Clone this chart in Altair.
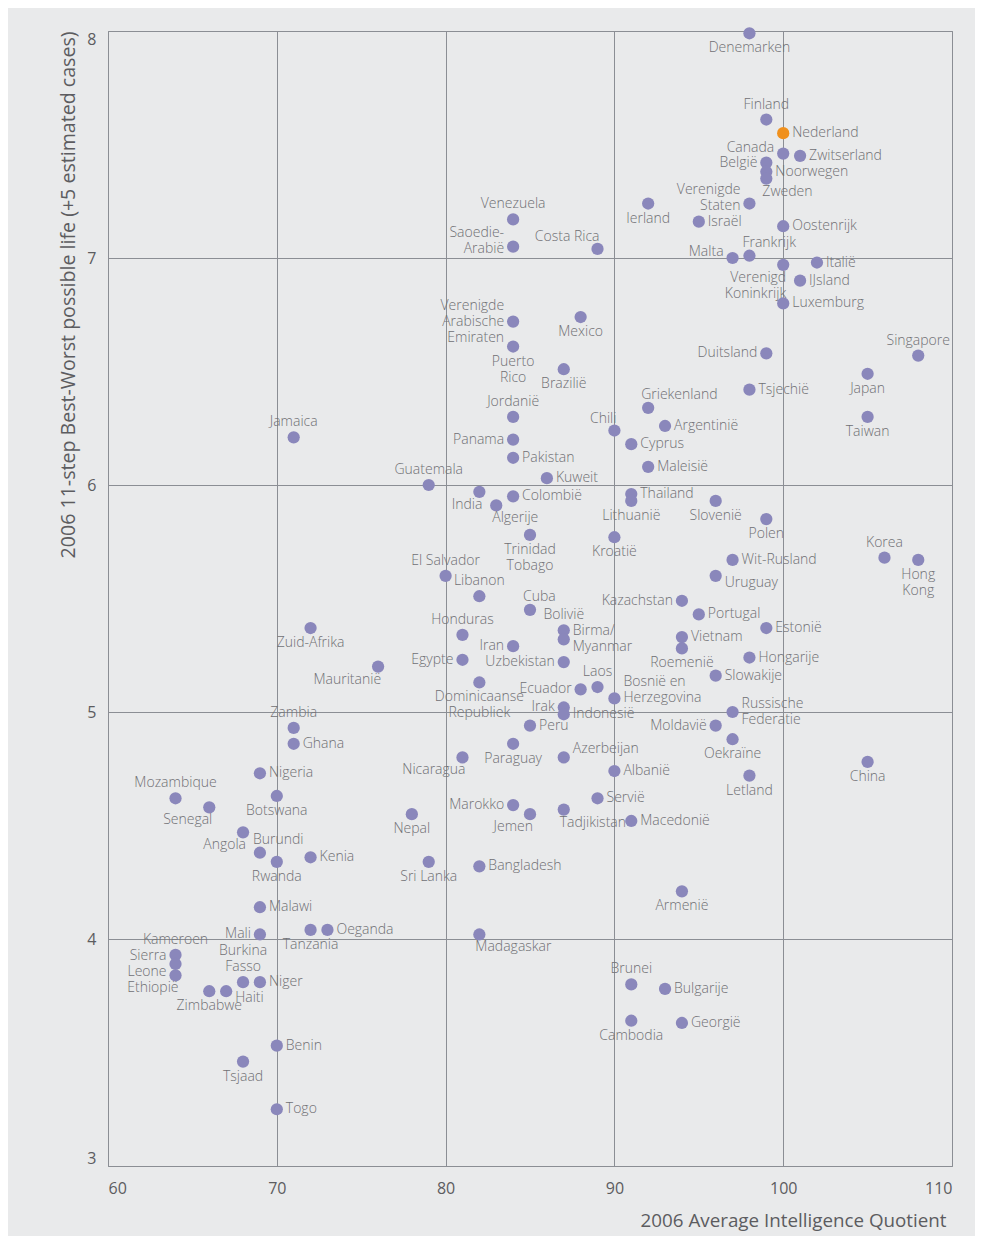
import altair as alt
import pandas as pd

names = [
    "Denemarken", "Finland", "Nederland", "Canada", "Zwitserland", "België", "Noorwegen", "Zweden",
    "Verenigde\nStaten", "Israël", "Oostenrijk", "Malta", "Frankrijk", "Verenigd\nKoninkrijk", "Italië",
    "IJsland", "Ierland", "Venezuela", "Saoedie-\nArabië", "Costa Rica", "Luxemburg", "Duitsland",
    "Tsjechië", "Singapore", "Japan", "Taiwan", "Argentinië", "Slovenië", "Polen", "Wit-Rusland",
    "Uruguay", "Korea", "Hong\nKong", "Verenigde\nArabische\nEmiraten", "Mexico", "Puerto\nRico",
    "Brazilië", "Griekenland", "Jordanië", "Chili", "Cyprus", "Panama", "Pakistan", "Maleisië",
    "Guatemala", "Kuweit", "India", "Algerije", "Colombië", "Thailand", "Lithuanië",
    "Trinidad\nTobago", "Kroatië", "El Salvador", "Libanon", "Cuba", "Kazachstan", "Bolivië",
    "Birma/\nMyanmar", "Honduras", "Iran", "Egypte", "Uzbekistan", "Mauritanië",
    "Dominicaanse\nRepubliek", "Laos", "Ecuador", "Bosnië en\nHerzegovina", "Irak", "Indonesië",
    "Peru", "Paraguay", "Nicaragua", "Azerbeijan", "Albanië", "Servië", "Marokko", "Jemen",
    "Tadjikistan", "Macedonië", "Nepal", "Sri Lanka", "Bangladesh", "Portugal", "Estonië",
    "Vietnam", "Roemenië", "Hongarije", "Slowakije", "Russische\nFederatie", "Moldavië",
    "Oekraïne", "Letland", "China", "Armenië", "Bulgarije", "Georgië", "Brunei", "Cambodia",
    "Madagaskar", "Zuid-Afrika", "Zambia", "Ghana", "Nigeria", "Mozambique", "Senegal",
    "Botswana", "Angola", "Burundi", "Rwanda", "Kenia", "Malawi", "Mali", "Tanzania", "Oeganda",
    "Kameroen", "Sierra\nLeone", "Ethiopië", "Zimbabwe", "Haiti", "Burkina\nFasso", "Niger",
    "Benin", "Tsjaad", "Togo", "Jamaica",
]

iq = [
    98, 99, 100, 100, 101, 99, 99, 99,
    98, 95, 100, 97, 98, 100, 102,
    101, 92, 84, 84, 89, 100, 99,
    98, 108, 105, 105, 93, 96, 99, 97,
    96, 106, 108, 84, 88, 84,
    87, 92, 84, 90, 91, 84, 84, 92,
    79, 86, 82, 83, 84, 91, 91,
    85, 90, 80, 82, 85, 94, 87,
    87, 81, 84, 81, 87, 76,
    82, 89, 88, 90, 87, 87,
    85, 84, 81, 87, 90, 89, 84, 85,
    87, 91, 78, 79, 82, 95, 99,
    94, 94, 98, 96, 97, 96,
    97, 98, 105, 94, 93, 94, 91, 91,
    82, 72, 71, 71, 69, 64, 66,
    70, 68, 69, 70, 72, 69, 69, 72, 73,
    64, 64, 64, 66, 67, 68, 69,
    70, 68, 70, 71,
]

life = [
    7.99, 7.61, 7.55, 7.46, 7.45, 7.42, 7.38, 7.35,
    7.24, 7.16, 7.14, 7.00, 7.01, 6.97, 6.98,
    6.90, 7.24, 7.17, 7.05, 7.04, 6.80, 6.58,
    6.42, 6.57, 6.49, 6.30, 6.26, 5.93, 5.85, 5.67,
    5.60, 5.68, 5.67, 6.72, 6.74, 6.61,
    6.51, 6.34, 6.30, 6.24, 6.18, 6.20, 6.12, 6.08,
    6.00, 6.03, 5.97, 5.91, 5.95, 5.96, 5.93,
    5.78, 5.77, 5.60, 5.51, 5.45, 5.49, 5.36,
    5.32, 5.34, 5.29, 5.23, 5.22, 5.20,
    5.13, 5.11, 5.10, 5.06, 5.02, 4.99,
    4.94, 4.86, 4.80, 4.80, 4.74, 4.62, 4.59, 4.55,
    4.57, 4.52, 4.55, 4.34, 4.32, 5.43, 5.37,
    5.33, 5.28, 5.24, 5.16, 5.00, 4.94,
    4.88, 4.72, 4.78, 4.21, 3.78, 3.63, 3.80, 3.64,
    4.02, 5.37, 4.93, 4.86, 4.73, 4.62, 4.58,
    4.63, 4.47, 4.38, 4.34, 4.36, 4.14, 4.02, 4.04, 4.04,
    3.93, 3.89, 3.84, 3.77, 3.77, 3.81, 3.81,
    3.53, 3.46, 3.25, 6.21,
]

# where each country's label sits relative to its dot
label_side = [
    "b", "t", "r", "lu", "r", "l", "r", "br",
    "lu", "r", "r", "lu", "tr", "bl", "r",
    "r", "b", "t", "lu", "tl", "r", "l",
    "r", "t", "b", "b", "r", "b", "b", "r",
    "rd", "t", "b", "l", "b", "b",
    "b", "tr", "t", "tl", "r", "l", "r", "r",
    "t", "r", "bl", "br", "r", "r", "b",
    "b", "b", "t", "t", "tr", "l", "t",
    "r", "t", "l", "l", "l", "bl",
    "b", "t", "l", "ru", "l", "r",
    "r", "b", "bl", "ru", "r", "r", "l", "bl",
    "br", "r", "b", "b", "r", "r", "r",
    "r", "b", "r", "r", "r", "l",
    "b", "b", "b", "b", "r", "r", "t", "b",
    "br", "b", "t", "r", "r", "t", "bl",
    "b", "bl", "tr", "b", "r", "r", "l", "b", "r",
    "t", "l", "bl", "b", "rd", "t", "r",
    "r", "b", "r", "t",
]

df = pd.DataFrame({"name": names, "iq": iq, "life": life, "side": label_side})
df["hl"] = ["ja" if n == "Nederland" else "nee" for n in names]
df["nl"] = [n.count("\n") + 1 for n in names]

GRID = "#8b8e94"
TXT = "#707074"
AX = "#5c5c60"
FONT = "Open Sans"
LH = 16

x_enc = alt.X(
    "iq:Q",
    scale=alt.Scale(domain=[60, 110], nice=False, zero=False),
    axis=alt.Axis(
        values=[60, 70, 80, 90, 100, 110], title="2006 Average Intelligence Quotient",
        titleAnchor="end", titleX=838, titleAlign="right", titleFontSize=18.8,
        titleFontWeight="normal", titleColor=AX,
        titleFont=FONT, titlePadding=15, labelFontSize=16, labelColor=AX, labelFont=FONT,
        labelFlush=True, labelPadding=14, ticks=False, domain=False,
        grid=True, gridColor=GRID, gridOpacity=1, gridWidth=1,
    ),
)
y_enc = alt.Y(
    "life:Q",
    scale=alt.Scale(domain=[3, 8], nice=False, zero=False),
    axis=alt.Axis(
        values=[3, 4, 5, 6, 7, 8], title="2006 11-step Best-Worst possible life (+5 estimated cases)",
        titleAnchor="end", titleFontSize=19.6, titleFontWeight="normal", titleColor=AX,
        titleFont=FONT, titlePadding=8, labelFontSize=16, labelColor=AX, labelFont=FONT,
        labelFlush=True, labelPadding=12, ticks=False, domain=False,
        grid=True, gridColor=GRID, gridOpacity=1, gridWidth=1,
    ),
)

base = alt.Chart(df).encode(x=x_enc, y=y_enc)

points = base.mark_circle(size=150, opacity=1).encode(
    color=alt.Color("hl:N", scale=alt.Scale(domain=["ja", "nee"], range=["#F0901C", "#8A87BB"]), legend=None)
)

side_style = {
    "r": ("left", "middle", 9, 0),
    "l": ("right", "middle", -9, 0),
    "ru": ("left", "middle", 9, -8),
    "lu": ("right", "middle", -9, -6),
    "rd": ("left", "middle", 9, 7),
    "t": ("center", "bottom", 0, -8),
    "b": ("center", "top", 0, 8),
    "tl": ("right", "bottom", 2, -5),
    "tr": ("left", "bottom", -7, -6),
    "bl": ("right", "top", 3, 6),
    "br": ("left", "top", -4, 6),
}

layers = [points]
for code, (align, baseline, dx, dy) in side_style.items():
    for n in sorted(df.loc[df["side"] == code, "nl"].unique()):
        if baseline == "middle":
            ddy = dy - (n - 1) * LH / 2
        elif baseline == "bottom":
            ddy = dy - (n - 1) * LH
        else:
            ddy = dy
        layers.append(
            base.transform_filter((alt.datum.side == code) & (alt.datum.nl == int(n)))
            .mark_text(font=FONT, fontSize=14, fontWeight=300, color=TXT, lineBreak="\n",
                       lineHeight=LH, align=align, baseline=baseline, dx=dx, dy=float(ddy))
            .encode(text="name:N")
        )

chart = (
    alt.layer(*layers)
    .properties(
        width=844, height=1135,
        autosize=alt.AutoSizeParams(type="none"),
        padding={"left": 100, "top": 23, "right": 23, "bottom": 70},
        background="#e9eaeb",
    )
    .configure_view(stroke=GRID, strokeWidth=1)
)

chart.save("out.html", embed_options={"renderer": "svg", "actions": False})
